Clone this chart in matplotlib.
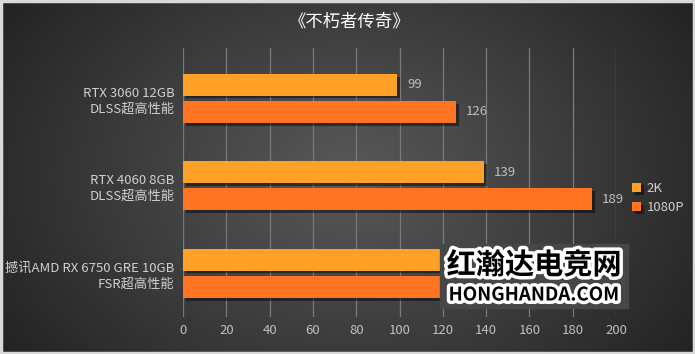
import numpy as np
import matplotlib
matplotlib.use("Agg")
import matplotlib.pyplot as plt
import matplotlib.patheffects as pe
from matplotlib.patches import Rectangle

plt.rcParams['font.family'] = ['Noto Sans CJK SC', 'DejaVu Sans']

title = "《不朽者传奇》"
categories = ["RTX 3060 12GB\nDLSS超高性能", "RTX 4060 8GB\nDLSS超高性能", "撼讯AMD RX 6750 GRE 10GB\nFSR超高性能"]
series_names = ["2K", "1080P"]
vals_2k = [99, 139, 158]
vals_1080p = [126, 189, 180]
xticks = [0, 20, 40, 60, 80, 100, 120, 140, 160, 180, 200]
colors = ["#FFA126", "#FF7321"]

W, H = 695, 354
fig = plt.figure(figsize=(W/100, H/100), dpi=100)

# background gradient
bg = fig.add_axes([0, 0, 1, 1])
yy, xx = np.mgrid[0:H, 0:W]
d = np.sqrt(((xx - W*0.5)/(W*0.62))**2 + ((yy - H*0.5)/(H*0.9))**2)
v = np.clip(0.35 - 0.22*d, 0, 1)
img = np.dstack([v, v, v])
bg.imshow(img, extent=[0, W, H, 0], aspect='auto', interpolation='bilinear')
bg.set_xlim(0, W); bg.set_ylim(H, 0)
bg.axis('off')
bg.add_patch(Rectangle((0.5, 0.5), W-1.5, H-1.5, fill=False, ec="#d9d9d9", lw=2.5))

top_px, bot_px = 48, 317
ax = fig.add_axes([183/W, (H-bot_px)/H, (616-183)/W, (bot_px-top_px)/H])
ax.set_facecolor('none')
for s in ax.spines.values():
    s.set_visible(False)

y = np.arange(len(categories))
h = 0.25
off = 0.155
shadow = [pe.SimplePatchShadow(offset=(2, -2), shadow_rgbFace='black', alpha=0.45), pe.Normal()]
b1 = ax.barh(y - off, vals_2k, height=h, color=colors[0], label=series_names[0], zorder=3)
b2 = ax.barh(y + off, vals_1080p, height=h, color=colors[1], label=series_names[1], zorder=3)
for b in list(b1) + list(b2):
    b.set_path_effects(shadow)

for bars, vals in ((b1, vals_2k), (b2, vals_1080p)):
    for bar, val in zip(bars, vals):
        ax.text(val + 4.5, bar.get_y() + bar.get_height()/2, str(val), va='center', ha='left',
                color='#bfbfbf', fontsize=9.5, zorder=4)

ax.set_xlim(0, 200)
ax.set_ylim(2.5, -0.575)
ax.set_xticks(xticks)
ax.set_xticklabels([str(t) for t in xticks], color='#bfbfbf', fontsize=9.5)
ax.set_yticks(y)
ax.set_yticklabels(categories, color='#d0d0d0', fontsize=9.5, linespacing=1.25)
ax.tick_params(axis='y', length=0, pad=6)
ax.tick_params(axis='x', length=0, pad=5)
ax.grid(axis='x', color='#7a7a7a', lw=0.9, zorder=1)
ax.set_axisbelow(True)

# legend
leg = fig.legend(handles=[b1, b2], labels=series_names, loc='upper left',
                 bbox_to_anchor=(620/W, 1 - 170/H), frameon=False, fontsize=9.5,
                 handlelength=0.7, handleheight=0.7, handletextpad=0.4, labelspacing=0.5,
                 labelcolor='#d0d0d0')

fig.text(0.503, 1 - 22/H, title, ha='center', va='center', color='white', fontsize=12.5)

# watermark (opaque block covering part of the last category)
ov = fig.add_axes([0, 0, 1, 1], zorder=5)
ov.set_xlim(0, W); ov.set_ylim(H, 0); ov.axis('off'); ov.patch.set_alpha(0)
ov.add_patch(Rectangle((440, 244), 188, 64, color='#474747', zorder=1))
wm_fx = [pe.withStroke(linewidth=5, foreground='white')]
ov.text(534, 265, "红瀚达电竞网", ha='center', va='center', color='black',
        fontsize=21, fontweight='bold', path_effects=wm_fx, zorder=3)
ov.text(534, 295, "HONGHANDA.COM", ha='center', va='center', color='black',
        fontsize=13.5, fontweight='bold', path_effects=wm_fx, zorder=3)

fig.savefig("out.png", dpi=100)
